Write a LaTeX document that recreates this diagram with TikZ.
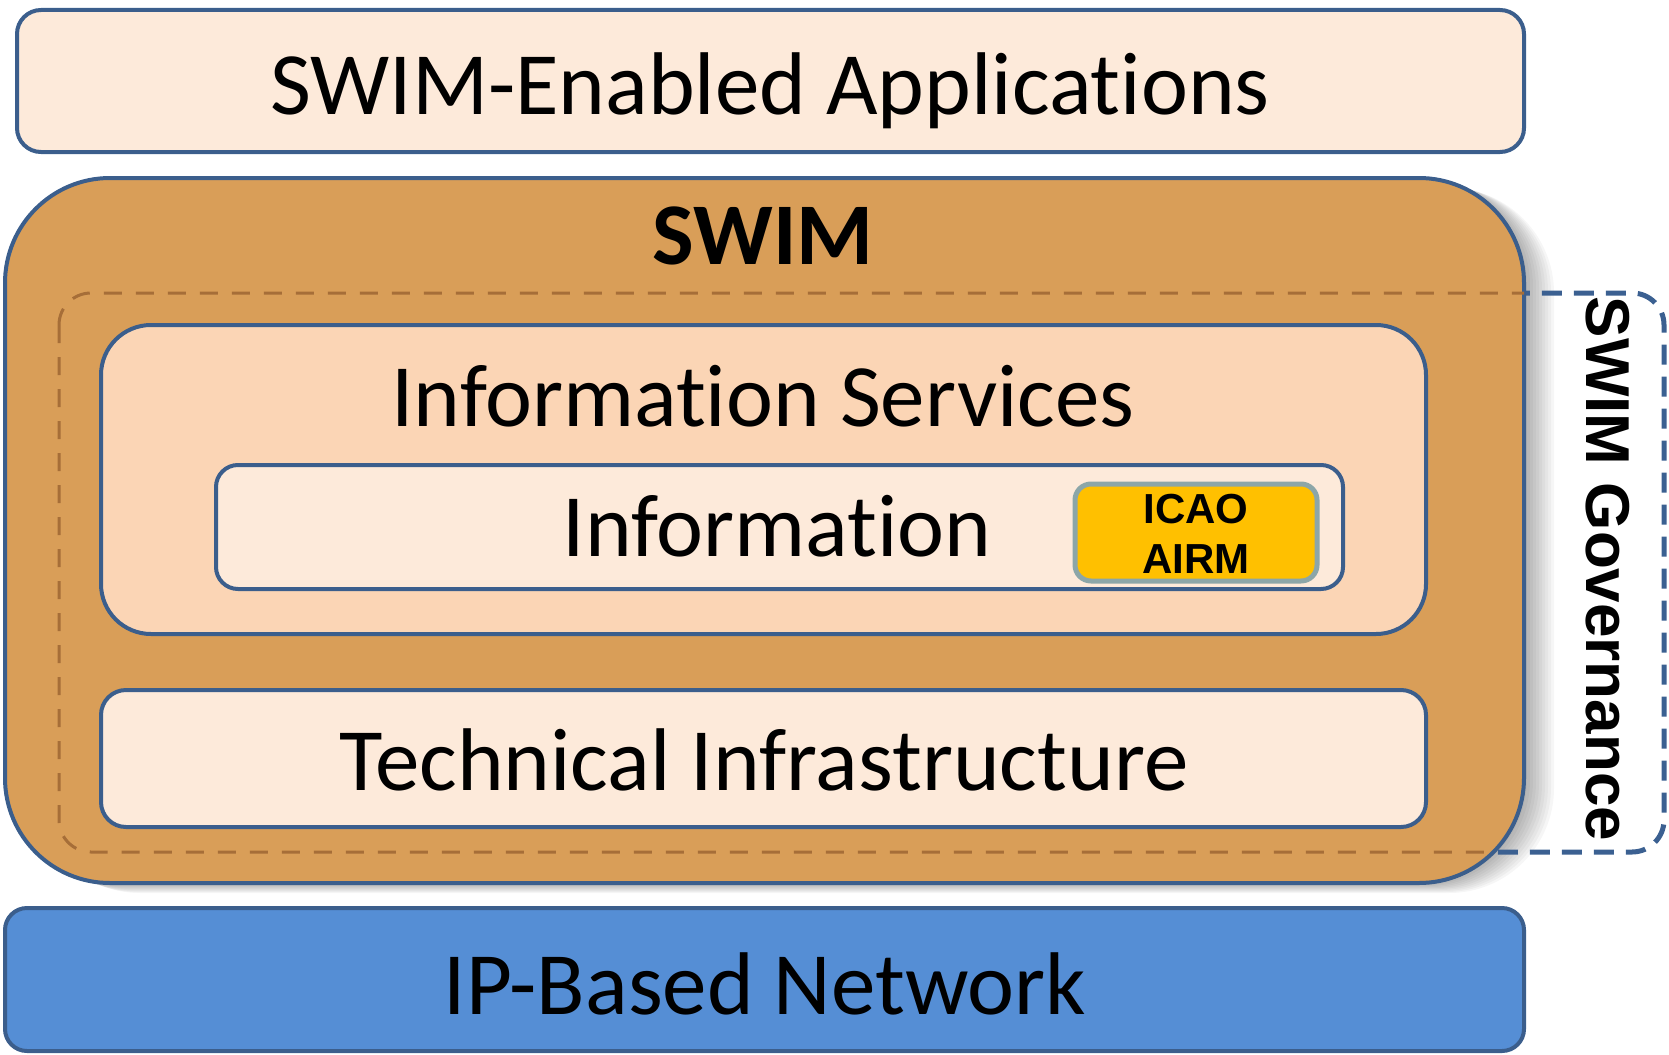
\documentclass[tikz,border=0pt]{standalone}
\usepackage{fontspec}
\setmainfont{Carlito}[Ligatures={TeX,NoCommon}]
\newfontfamily\govfont{Liberation Sans}

\definecolor{boxline}{RGB}{59,94,140}
\definecolor{appfill}{RGB}{253,234,218}
\definecolor{swimfill}{RGB}{217,158,88}
\definecolor{servfill}{RGB}{251,213,181}
\definecolor{netfill}{RGB}{85,142,213}
\definecolor{airmfill}{RGB}{255,192,0}
\definecolor{airmline}{RGB}{140,166,168}
\definecolor{dashbrown}{RGB}{166,110,56}
\definecolor{govline}{RGB}{59,96,145}

\begin{document}
\begin{tikzpicture}[x=1pt, y=-1pt,
    layer/.style={draw=boxline, line width=4pt, inner sep=0pt},
    lbl/.style={anchor=base, inner sep=0pt, font=\fontsize{89}{100}\selectfont},
  ]
  \useasboundingbox (0,0) rectangle (1669,1054);

  % soft shadow of the SWIM block
  \foreach \s in {3,6,...,30}
    \fill[black, opacity=0.035, rounded corners=105pt] (5+\s,178+\s/3) rectangle (1524+\s,883+\s/3);

  % governance frame, drawn under the SWIM block
  \draw[govline, line width=5pt, dash pattern=on 20pt off 12pt, rounded corners=32pt]
    (59,293) rectangle (1664,852);

  \node[layer, fill=appfill, rounded corners=24pt, minimum width=1507pt, minimum height=142pt] (apps) at (770.5,81) {};
  \node[layer, fill=swimfill, rounded corners=105pt, minimum width=1519pt, minimum height=705pt] (swim) at (764.5,530.5) {};
  \node[layer, fill=netfill, rounded corners=22pt, minimum width=1519pt, minimum height=143pt] (net) at (764.5,979.5) {};

  % the part of the frame that lies on the SWIM block
  \begin{scope}
    \clip[rounded corners=105pt] (5,178) rectangle (1524,883);
    \draw[dashbrown, line width=3pt, dash pattern=on 18pt off 14pt, rounded corners=32pt]
      (59,293) rectangle (1664,852);
  \end{scope}

  \node[layer, fill=servfill, rounded corners=50pt, minimum width=1325pt, minimum height=309pt] (serv) at (763.5,479.5) {};
  \node[layer, fill=appfill, rounded corners=22pt, minimum width=1127pt, minimum height=124pt] (info) at (779.5,527) {};
  \node[draw=airmline, line width=5pt, fill=airmfill, rounded corners=16pt, minimum width=242pt, minimum height=97pt] (airm) at (1196,532.5) {};
  \node[layer, fill=appfill, rounded corners=25pt, minimum width=1325pt, minimum height=137pt] (tech) at (763.5,758.5) {};

  % texts (\kern0pt keeps t and i apart)
  \node[lbl] (appstext) at (770,114) {SWIM-Enabled Applicat\kern0pt ions};
  \node[lbl, font=\fontsize{88}{100}\selectfont\bfseries] (swimtext) at (763,264) {SWIM};
  \node[lbl] (servtext) at (763,426) {Informat\kern0pt ion Services};
  \node[lbl] (infotext) at (777,556) {Informat\kern0pt ion};
  \node[inner sep=0pt, align=center, font=\govfont\bfseries\fontsize{42}{50}\selectfont] (airmtext) at (1196,534) {ICAO\\AIRM};
  \node[lbl] (techtext) at (764,790) {Technical Infrastructure};
  \node[lbl] (nettext) at (765,1014) {IP-Based Network};
  \node[inner sep=0pt, rotate=-90, font=\govfont\bfseries\fontsize{62}{70}\selectfont] (govtext) at (1608,569) {SWIM Governance};
\end{tikzpicture}
\end{document}
